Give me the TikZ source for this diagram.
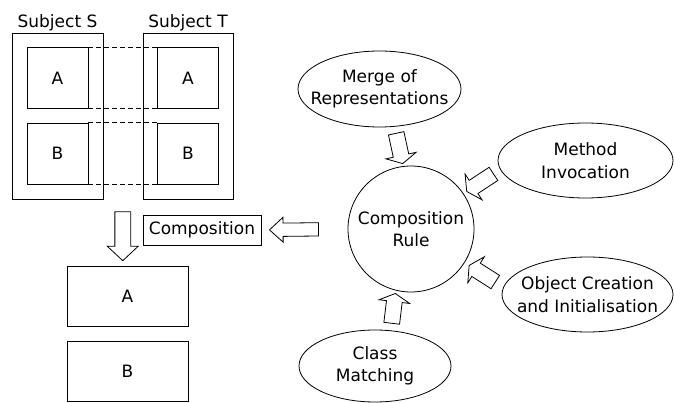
\documentclass[tikz,border=0pt]{standalone}
\usepackage{fontspec}
\setmainfont{DejaVu Sans}
\usetikzlibrary{shapes.geometric,shapes.arrows,positioning,calc}

\begin{document}
\begin{tikzpicture}[x=1pt,y=-1pt,line width=0.8pt,
  font=\fontsize{17pt}{22.5pt}\selectfont,
  box/.style={rectangle,draw,inner sep=0pt},
  blob/.style={ellipse,draw,align=center,inner xsep=-14pt,inner ysep=-8pt},
  hollow/.style={single arrow,draw,fill=white,inner xsep=0pt,inner ysep=7.5pt,
    single arrow head extend=7.5pt,single arrow tip angle=#1,sloped,allow upside down},
  dashlink/.style={dash pattern=on 5pt off 3pt}]
\useasboundingbox (0,0) rectangle (674,403);

% subjects and their parts
\node [box,minimum width=91pt,minimum height=166pt,label={[label distance=-2.6pt]above:Subject S}] (subS) at (57.5,116) {};
\node [box,minimum width=90pt,minimum height=166pt,label={[label distance=-2.6pt]above:Subject T}] (subT) at (188,116) {};
\node [box,minimum size=61pt] (sA) at (57.5,78) {A};
\node [box,minimum size=61pt] (sB) at (57.5,153.5) {B};
\node [box,minimum size=61pt] (tA) at (188,78) {A};
\node [box,minimum size=61pt] (tB) at (188,153.5) {B};
\foreach \p in {A,B} {
  \draw[dashlink] (s\p.north east) -- (t\p.north west);
  \draw[dashlink] (s\p.south east) -- (t\p.south west);
}

% result of the composition
\node [box,minimum width=121pt,minimum height=60pt] (resA) at (127.5,296) {A};
\node [box,minimum width=121pt,minimum height=60pt,below=15pt of resA] (resB) {B};
\node [box,minimum width=118pt,minimum height=30pt] (comp) at (202,230) {Composition};

% the rule and what feeds it
\node [circle,draw,minimum size=126pt,inner sep=0pt,align=center] (rule) at (411,229) {Composition\\Rule};
\node [blob,minimum width=163pt,minimum height=76pt] (merge) at (379.5,89) {Merge of\\Representations};
\node [blob,minimum width=175pt,minimum height=75pt] (method) at (585.5,160.5) {Method\\Invocation};
\node [blob,minimum width=171pt,minimum height=75pt] (object) at (587.5,294.5) {Object Creation\\and Initialisation};
\node [blob,minimum width=152pt,minimum height=72pt] (class) at (375,366) {Class\\Matching};

% block arrows
\coordinate (fork) at ($(subS.south)!.5!(subT.south)$);
\coordinate (land) at (fork |- resA.north);
\path (fork) -- (land) node[hollow=94,minimum height=49pt,pos=.5] {};
\path (rule.west) -- (comp.east) node[hollow=85,minimum height=49pt,inner ysep=6.25pt,single arrow head extend=5.75pt,pos=.58] {};
\path (merge.-68) -- (rule.97) node[hollow=124,minimum height=31pt,pos=.5] {};
\path (method.186) -- (rule.34) node[hollow=124,minimum height=32pt,pos=.5] {};
\path (object.175) -- (rule.-32) node[hollow=124,minimum height=31pt,pos=.5] {};
\path (class.66) -- (rule.-104) node[hollow=124,minimum height=30pt,pos=.5] {};
\end{tikzpicture}
\end{document}
